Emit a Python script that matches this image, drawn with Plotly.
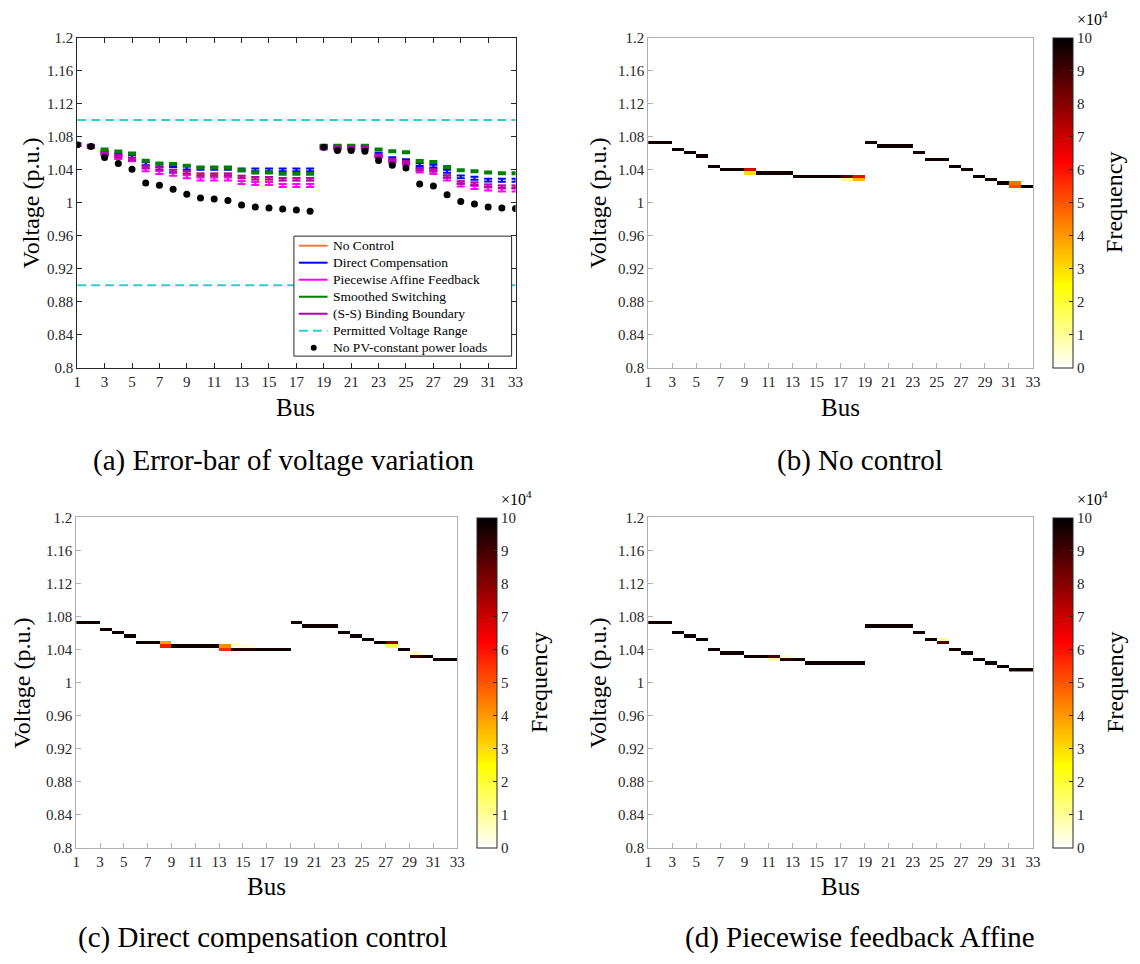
import numpy as np
import plotly.graph_objects as go

FONT = "Times New Roman, Liberation Serif, serif"
W, H = 1140, 964

# ---------------- panel (a): error bars of bus voltages ----------------
bus = list(range(1, 34))

no_pv = [1.0702, 1.0680, 1.0548, 1.0476, 1.0405, 1.0238, 1.0210, 1.0163, 1.0103, 1.0056,
         1.0044, 1.0028, 0.9972, 0.9948, 0.9937, 0.9925, 0.9913, 0.9897, 1.0670, 1.0631,
         1.0631, 1.0623, 1.0512, 1.0452, 1.0420, 1.0226, 1.0202, 1.0095, 1.0016, 0.9984,
         0.9948, 0.9937, 0.9930]

v_no_control = [1.0702, 1.0683, 1.0595, 1.0563, 1.0530, 1.0432, 1.0413, 1.0385, 1.0365, 1.0340,
                1.0340, 1.0340, 1.0310, 1.0296, 1.0296, 1.0284, 1.0284, 1.0284, 1.0670, 1.0668,
                1.0668, 1.0668, 1.0568, 1.0510, 1.0490, 1.0405, 1.0393, 1.0318, 1.0245, 1.0229,
                1.0206, 1.0194, 1.0194]

v_direct = [1.0703, 1.0685, 1.0607, 1.0583, 1.0560, 1.0472, 1.0456, 1.0449, 1.0420, 1.0415,
            1.0415, 1.0415, 1.0397, 1.0397, 1.0397, 1.0397, 1.0397, 1.0397, 1.0678, 1.0676,
            1.0676, 1.0676, 1.0587, 1.0532, 1.0508, 1.0460, 1.0444, 1.0381, 1.0313, 1.0296,
            1.0274, 1.0272, 1.0272]

v_pwa = [1.0700, 1.0681, 1.0588, 1.0548, 1.0520, 1.0400, 1.0365, 1.0345, 1.0313, 1.0286,
         1.0286, 1.0286, 1.0246, 1.0232, 1.0232, 1.0208, 1.0208, 1.0208, 1.0662, 1.0660,
         1.0660, 1.0660, 1.0558, 1.0496, 1.0475, 1.0385, 1.0365, 1.0286, 1.0214, 1.0185,
         1.0167, 1.0155, 1.0155]

v_smooth = [1.0705, 1.0688, 1.0643, 1.0619, 1.0595, 1.0508, 1.0476, 1.0468, 1.0449, 1.0427,
            1.0427, 1.0427, 1.0393, 1.0365, 1.0365, 1.0350, 1.0350, 1.0350, 1.0690, 1.0690,
            1.0690, 1.0690, 1.0643, 1.0623, 1.0611, 1.0504, 1.0492, 1.0432, 1.0393, 1.0381,
            1.0365, 1.0357, 1.0357]

v_binding = [1.0702, 1.0683, 1.0595, 1.0563, 1.0530, 1.0432, 1.0413, 1.0385, 1.0365, 1.0340,
             1.0340, 1.0340, 1.0310, 1.0296, 1.0296, 1.0284, 1.0284, 1.0284, 1.0670, 1.0668,
             1.0668, 1.0668, 1.0568, 1.0510, 1.0490, 1.0405, 1.0393, 1.0318, 1.0245, 1.0229,
             1.0206, 1.0194, 1.0194]

# half-width of each error bar (p.u.)
err_no_control = 0.0015
err_direct = 0.0017
err_pwa = 0.0018
err_smooth = 0.0012
err_binding = 0.0015

v_upper, v_lower = 1.10, 0.90

series_a = [
    ("No Control", v_no_control, err_no_control, "#f07a3c"),
    ("Direct Compensation", v_direct, err_direct, "#0000ff"),
    ("Piecewise Affine Feedback", v_pwa, err_pwa, "#ff00ff"),
    ("Smoothed Switching", v_smooth, err_smooth, "#008000"),
    ("(S-S) Binding Boundary", v_binding, err_binding, "#b000b0"),
]
CYAN = "#33cccc"
range_label = "Permitted Voltage Range"
dots_label = "No PV-constant power loads"

# ---------------- panels (b)-(d): voltage histograms per bus ----------------
FULL = 9.8e4                       # samples landing in a single voltage bin
bus_edges = list(range(1, 34))     # 32 tiles between bus 1 and bus 33
volt_edges = [1.0133 + 0.0041 * k for k in range(17)]

hist_no_control = [1.0722, 1.0722, 1.0654, 1.0611, 1.0575, 1.0452, 1.0409, 1.0409, 1.0409, 1.0365,
                   1.0365, 1.0365, 1.0325, 1.0325, 1.0325, 1.0325, 1.0325, 1.0325, 1.0722, 1.0687,
                   1.0687, 1.0687, 1.0611, 1.0535, 1.0535, 1.0452, 1.0409, 1.0325, 1.0282, 1.0242,
                   1.0242, 1.0202]
split_no_control = {9: [(1.0409, 6.8e4), (1.0365, 3.0e4)],
                    17: [(1.0325, 8.7e4), (1.0285, 1.1e4)],
                    18: [(1.0325, 6.2e4), (1.0285, 3.6e4)],
                    31: [(1.0242, 4.6e4), (1.0202, 5.2e4)]}

hist_direct = [1.0722, 1.0722, 1.0639, 1.0604, 1.0564, 1.0480, 1.0480, 1.0480, 1.0437, 1.0437,
               1.0437, 1.0437, 1.0437, 1.0401, 1.0401, 1.0401, 1.0401, 1.0401, 1.0722, 1.0679,
               1.0679, 1.0679, 1.0604, 1.0564, 1.0520, 1.0480, 1.0480, 1.0401, 1.0318, 1.0318,
               1.0274, 1.0274]
split_direct = {8: [(1.0480, 3.9e4), (1.0437, 5.9e4)],
                13: [(1.0437, 4.2e4), (1.0401, 5.6e4)],
                14: [(1.0437, 0.3e4), (1.0401, 9.5e4)],
                15: [(1.0437, 0.3e4), (1.0401, 9.5e4)],
                27: [(1.0480, 8.0e4), (1.0437, 1.8e4)],
                29: [(1.0361, 0.6e4), (1.0318, 9.2e4)]}

hist_pwa = [1.0722, 1.0722, 1.0607, 1.0564, 1.0520, 1.0401, 1.0361, 1.0361, 1.0318, 1.0318,
            1.0318, 1.0278, 1.0278, 1.0234, 1.0234, 1.0234, 1.0234, 1.0234, 1.0679, 1.0679,
            1.0679, 1.0679, 1.0607, 1.0520, 1.0480, 1.0401, 1.0361, 1.0278, 1.0234, 1.0194,
            1.0155, 1.0155]
split_pwa = {11: [(1.0318, 8.9e4), (1.0278, 0.9e4)],
             12: [(1.0318, 0.4e4), (1.0278, 9.4e4)],
             25: [(1.0520, 0.9e4), (1.0480, 8.9e4)]}

freq_ticks = [k * 1e4 for k in range(11)]
freq_labels = [str(k) for k in range(11)]

HOT_R = [[0.0, "#ffffff"], [0.25, "#ffff00"], [0.625, "#ff0000"], [1.0, "#000000"]]


def tile_grid(volts, splits):
    edges = np.array(volt_edges)
    z = [[None] * (len(bus_edges) - 1) for _ in range(len(volt_edges) - 1)]
    for i, v in enumerate(volts):
        cells = splits.get(i + 1, [(v, FULL)])
        for vv, f in cells:
            r = int(np.searchsorted(edges, vv) - 1)
            z[r][i] = f
    return z


def fx(px):
    return px / W


def fy(py):
    return 1 - py / H


fig = go.Figure()

# error bars (no connecting line)
for name, vals, err, col in series_a:
    fig.add_trace(go.Scatter(
        x=bus, y=vals, mode="markers", name=name, showlegend=False, hoverinfo="skip",
        marker=dict(size=2, color="rgba(0,0,0,0)"),
        error_y=dict(type="constant", value=err, color=col, thickness=2, width=4),
        xaxis="x", yaxis="y"))

# permitted voltage range
for lim in (v_upper, v_lower):
    fig.add_trace(go.Scatter(
        x=[bus[0], bus[-1]], y=[lim, lim], mode="lines", showlegend=False,
        line=dict(color=CYAN, width=2, dash="9px,5px"), xaxis="x", yaxis="y"))

fig.add_trace(go.Scatter(
    x=bus, y=no_pv, mode="markers", name=dots_label, showlegend=False,
    marker=dict(size=7, color="black"), xaxis="x", yaxis="y"))

# heatmaps
heat_panels = [
    (hist_no_control, split_no_control, "x2", "y2", "coloraxis"),
    (hist_direct, split_direct, "x3", "y3", "coloraxis2"),
    (hist_pwa, split_pwa, "x4", "y4", "coloraxis3"),
]
for volts, splits, xa, ya, ca in heat_panels:
    fig.add_trace(go.Heatmap(x=bus_edges, y=volt_edges, z=tile_grid(volts, splits),
                             coloraxis=ca, xaxis=xa, yaxis=ya, hoverongaps=False))

volt_ticks = [0.8 + 0.04 * k for k in range(11)]
volt_labels = ["0.8", "0.84", "0.88", "0.92", "0.96", "1", "1.04", "1.08", "1.12", "1.16", "1.2"]
bus_ticks = list(range(1, 34, 2))

tick_font = dict(family=FONT, size=15, color="#262626")
DARK = "#262626"
GREY = "#b0b0b0"


def xaxis_cfg(dom, anchor, line_col):
    return dict(domain=dom, anchor=anchor, range=[1, 33], tickvals=bus_ticks,
                ticktext=[str(t) for t in bus_ticks], ticks="inside", ticklen=5,
                tickcolor=line_col, showline=True, linecolor=line_col, linewidth=1,
                mirror="allticks" if line_col == DARK else True,
                showgrid=False, zeroline=False, tickfont=tick_font)


def yaxis_cfg(dom, anchor, line_col):
    return dict(domain=dom, anchor=anchor, range=[0.8, 1.2], tickvals=volt_ticks,
                ticktext=volt_labels, ticks="inside", ticklen=5, tickcolor=line_col,
                showline=True, linecolor=line_col, linewidth=1,
                mirror="allticks" if line_col == DARK else True,
                showgrid=False, zeroline=False, tickfont=tick_font)


top_y = [fy(366), fy(30)]
bot_y = [fy(854), fy(518)]


def cbar(x_left, y_mid):
    return dict(colorscale=HOT_R, cmin=0, cmax=1e5,
                colorbar=dict(x=fx(x_left), xanchor="left", y=fy(y_mid), yanchor="middle",
                              len=336 / H, lenmode="fraction", thickness=20,
                              thicknessmode="pixels", outlinecolor=DARK, outlinewidth=1,
                              tickvals=freq_ticks, ticktext=freq_labels, ticks="inside",
                              ticklen=4, tickcolor=DARK, tickfont=tick_font,
                              xpad=0, ypad=0))


annotations = []
shapes = []


def text(x, y, s, size, angle=0, anchor="center"):
    annotations.append(dict(x=fx(x), y=fy(y), xref="paper", yref="paper", text=s,
                            showarrow=False, textangle=angle, xanchor=anchor,
                            yanchor="middle", font=dict(family=FONT, size=size, color="black")))


# axis titles
for x, y in [(27, 198), (600, 198), (18, 686), (600, 686)]:
    text(x, y, "Voltage (p.u.)", 24, -90)
for x, y in [(295, 406), (845, 406), (265, 893), (845, 893)]:
    text(x, y, "Bus", 25)
for x, y in [(1122, 198), (540, 686), (1122, 686)]:
    text(x, y, "Frequency", 24, -90)
for x, y in [(1082, 10), (500, 498), (1082, 498)]:
    text(x, y, "\u00d710<sup>4</sup>", 16, anchor="left")

# captions
text(283, 460, "(a) Error-bar of voltage variation", 29)
text(865, 460, "(b) No control", 29)
text(262, 945, "(c) Direct compensation control", 29)
text(865, 945, "(d) Piecewise feedback Affine", 29)

# legend box for panel (a)
shapes.append(dict(type="rect", xref="paper", yref="paper", x0=fx(293), x1=fx(513),
                   y0=fy(354), y1=fy(232), line=dict(color=DARK, width=1),
                   fillcolor="white", layer="above"))
entries = [(name, col, "solid") for name, _, _, col in series_a]
entries.append((range_label, CYAN, "9px,5px"))
for k, (name, col, dash) in enumerate(entries):
    yy = 241.7 + 17.3 * k
    shapes.append(dict(type="line", xref="paper", yref="paper", x0=fx(298), x1=fx(327),
                       y0=fy(yy), y1=fy(yy), line=dict(color=col, width=2, dash=dash),
                       layer="above"))
    text(330, yy, name, 13.5, anchor="left")
yy = 241.7 + 17.3 * 6
shapes.append(dict(type="circle", xref="paper", yref="paper", x0=fx(310), x1=fx(316),
                   y0=fy(yy + 3), y1=fy(yy - 3), fillcolor="black",
                   line=dict(color="black", width=0), layer="above"))
text(330, yy, dots_label, 13.5, anchor="left")

fig.update_layout(
    width=W, height=H, margin=dict(l=0, r=0, t=0, b=0),
    paper_bgcolor="white", plot_bgcolor="white",
    font=dict(family=FONT, color=DARK),
    showlegend=False,
    xaxis=xaxis_cfg([fx(74), fx(517)], "y", DARK),
    yaxis=yaxis_cfg(top_y, "x", DARK),
    xaxis2=xaxis_cfg([fx(651), fx(1040)], "y2", GREY),
    yaxis2=yaxis_cfg(top_y, "x2", GREY),
    xaxis3=xaxis_cfg([fx(73), fx(458)], "y3", GREY),
    yaxis3=yaxis_cfg(bot_y, "x3", GREY),
    xaxis4=xaxis_cfg([fx(651), fx(1040)], "y4", GREY),
    yaxis4=yaxis_cfg(bot_y, "x4", GREY),
    coloraxis=cbar(1060, 198),
    coloraxis2=cbar(478, 686),
    coloraxis3=cbar(1060, 686),
    annotations=annotations,
    shapes=shapes,
)

fig.write_html("out.html")
